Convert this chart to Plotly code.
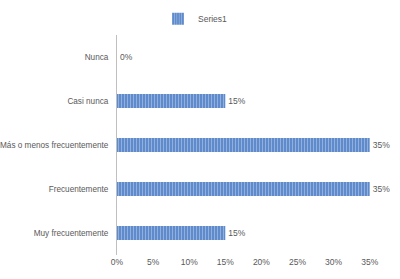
import plotly.graph_objects as go

categories = ["Nunca", "Casi nunca", "Más o menos frecuentemente", "Frecuentemente", "Muy frecuentemente"]
values = [0.0, 0.15, 0.35, 0.35, 0.15]
series_name = "Series1"
tick_vals = [0, 0.05, 0.10, 0.15, 0.20, 0.25, 0.30, 0.35, 0.40]
tick_text = ["0%", "5%", "10%", "15%", "20%", "25%", "30%", "35%", "40%"]

font_family = "Liberation Sans, Arial, sans-serif"
gray = "#595959"

fig = go.Figure()
fig.add_trace(go.Bar(
    y=categories, x=values, orientation="h", name=series_name,
    width=0.32,
    marker=dict(color="#6892cf", line=dict(width=0),
                pattern=dict(shape="|", fgcolor="#c4d5ee", bgcolor="#5f8bcc", size=3, solidity=0.35)),
    texttemplate="%{x:.0%}", textposition="outside",
    textfont=dict(size=8.5, color=gray, family=font_family),
    cliponaxis=False, constraintext="none",
))

fig.update_layout(
    width=400, height=279,
    margin=dict(l=117, r=0, t=35, b=24, autoexpand=False),
    paper_bgcolor="white", plot_bgcolor="white",
    font=dict(family=font_family, size=8.5, color=gray),
    showlegend=True,
    legend=dict(orientation="h", xref="container", yref="container",
                x=158 / 400, y=0.985, xanchor="left", yanchor="top",
                font=dict(size=8.5, color=gray)),
    xaxis=dict(range=[0, 0.392], tickvals=tick_vals, ticktext=tick_text,
               showgrid=False, zeroline=False, showline=False, automargin=False,
               tickfont=dict(size=8.5, color=gray), ticks=""),
    yaxis=dict(autorange="reversed", showgrid=False, zeroline=False, automargin=False,
               showline=True, linecolor="#bfbfbf", linewidth=1,
               tickfont=dict(size=8.2, color=gray), ticks="", ticklabelstandoff=6),
)

fig.write_html("out.html", config={"displayModeBar": False},
               post_script="document.body.style.margin='0';")
